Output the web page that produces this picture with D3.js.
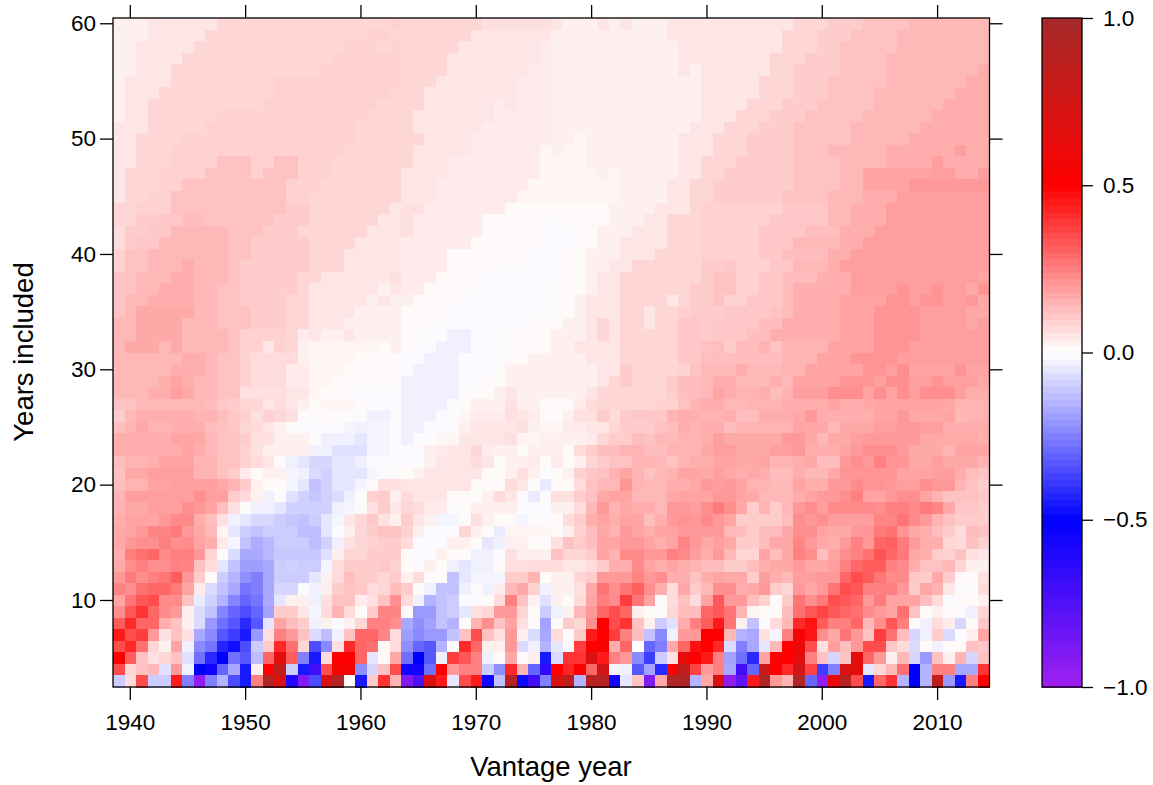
<!DOCTYPE html>
<html>
<head>
<meta charset="utf-8">
<script src="https://cdn.jsdelivr.net/npm/d3@7"></script>
<style>
body { margin: 0; background: #fff; }
text { font-family: "Liberation Sans", Arial, sans-serif; fill: #000; }
</style>
</head>
<body>
<script>
var years = d3.range(1939, 2015);
var included = d3.range(60, 2, -1);
var yearTicks = [1940, 1950, 1960, 1970, 1980, 1990, 2000, 2010];
var includedTicks = [10, 20, 30, 40, 50, 60];
var barTicks = [-1, -0.5, 0, 0.5, 1];
var colorStops = [-1, -0.5, 0, 0.5, 1];
var colorNames = ["#A020F0", "#0000FF", "#FFFFFF", "#FF0000", "#A52A2A"];

// one row per "years included" (60 at the top, 3 at the bottom), values x100
// each row: 1939, then the 40s, 50s, 60s, 70s, 80s, 90s, 00s, 2010-14
var values = [
[3, 3,3,5,5,5,5,5,5,8,8, 8,8,8,8,8,8,8,8,8,8, 8,8,8,9,8,8,8,8,8,8, 8,6,6,6,6,6,6,5,3,3, 3,5,3,5,3,3,3,5,5,5, 5,5,5,5,5,5,5,5,8,8, 8,10,10,10,12,12,12,12,14,14, 14,14,14,14,14],
[3, 3,3,5,5,5,5,5,8,8,8, 8,8,8,8,8,8,8,8,8,8, 8,9,9,8,8,8,8,8,8,8, 5,5,5,5,5,5,5,3,3,3, 3,3,3,3,3,3,3,5,5,5, 5,5,5,5,5,5,5,8,8,8, 10,10,10,12,12,12,12,14,14,14, 14,14,14,14,14],
[3, 3,5,5,5,5,5,8,8,8,8, 8,8,8,8,8,8,8,8,8,9, 9,9,8,9,8,8,8,8,8,5, 5,5,5,5,5,5,4,3,3,3, 3,3,3,3,3,3,3,3,5,5, 5,5,5,5,5,5,5,8,8,8, 10,10,12,12,12,12,12,14,14,14, 14,14,14,14,14],
[3, 3,5,5,5,5,8,8,8,8,8, 8,8,8,8,8,8,8,8,9,9, 9,9,9,9,8,8,8,8,5,5, 5,5,5,5,5,5,4,3,3,3, 3,3,3,3,3,3,3,3,5,5, 5,5,5,5,5,5,8,8,8,10, 10,10,12,12,12,12,14,14,14,14, 14,14,14,14,14],
[3, 3,5,5,5,8,8,8,8,8,8, 8,8,8,8,8,8,8,9,9,9, 9,9,9,9,8,8,8,8,5,5, 5,5,5,5,5,4,4,3,3,3, 3,3,3,3,3,3,3,3,5,3, 5,5,5,5,5,5,8,8,10,10, 10,10,12,12,12,12,14,14,14,14, 14,14,14,14,16],
[3, 5,5,5,5,8,8,8,8,8,8, 8,8,8,9,9,9,9,9,9,9, 9,9,9,9,8,8,8,5,5,5, 5,5,5,5,4,4,4,3,3,3, 3,3,3,3,3,3,3,3,3,3, 5,5,5,5,5,8,8,8,10,10, 10,12,12,12,12,12,14,14,14,14, 14,14,14,16,16],
[3, 5,5,5,8,8,8,8,8,8,8, 8,8,8,9,9,9,9,9,9,9, 9,9,9,8,8,8,5,5,5,5, 5,5,5,5,4,4,4,3,3,3, 3,3,3,3,3,3,3,3,3,3, 5,5,5,5,5,8,8,8,10,10, 10,12,12,12,12,14,14,14,14,14, 14,14,16,16,16],
[3, 5,5,8,8,8,8,8,8,8,8, 8,8,9,9,9,9,9,9,9,9, 9,9,8,8,8,8,5,5,5,5, 5,5,4,5,4,4,4,3,3,3, 3,3,3,3,3,3,3,3,3,3, 5,5,5,5,8,8,8,10,10,10, 12,12,12,12,12,14,14,14,14,14, 14,16,16,16,16],
[3, 5,5,8,8,8,8,8,8,9,9, 9,9,9,9,9,9,9,9,9,9, 9,8,8,8,8,5,5,5,5,5, 5,5,4,4,4,4,4,3,3,3, 3,3,3,3,3,3,3,3,3,3, 5,5,5,8,8,8,10,10,10,12, 12,12,12,12,14,14,14,14,14,14, 16,16,16,16,16],
[5, 5,5,8,8,8,8,8,9,9,9, 9,9,9,9,9,9,9,9,9,9, 8,8,8,8,8,5,5,5,5,5, 5,4,4,4,4,4,4,3,3,3, 3,3,3,3,3,3,3,3,3,5, 5,5,8,8,8,10,10,10,12,12, 12,12,12,14,14,14,14,14,14,16, 16,16,16,16,16],
[5, 5,8,8,8,8,9,9,9,9,9, 9,9,9,9,9,9,9,9,9,9, 8,8,8,8,8,8,5,5,5,5, 4,4,4,4,4,4,4,3,3,2, 3,3,3,3,3,3,3,3,5,5, 5,8,8,8,10,10,10,10,12,12, 12,12,12,14,14,14,14,14,16,16, 16,16,16,16,16],
[5, 5,8,8,8,9,9,9,9,9,9, 9,9,9,9,9,9,9,9,9,8, 8,8,8,8,8,5,5,5,5,5, 4,4,4,4,4,4,2,3,2,2, 3,3,3,3,3,3,3,3,5,5, 5,8,8,8,10,10,10,10,12,12, 12,14,14,14,14,14,16,16,16,16, 16,16,19,16,16],
[5, 5,8,8,8,9,9,9,9,12,12, 12,9,9,12,12,9,9,9,8,8, 8,8,8,8,8,5,5,5,4,4, 4,4,4,4,4,4,2,2,2,2, 3,3,3,3,3,3,3,3,5,5, 8,8,8,10,10,10,10,10,12,12, 12,12,14,14,14,14,16,16,16,16, 19,16,16,16,16],
[5, 8,8,8,9,9,9,9,12,12,12, 12,9,12,12,12,9,9,9,8,8, 8,8,8,8,5,5,5,5,4,4, 4,4,4,4,4,4,2,2,2,2, 2,3,2,3,3,3,3,3,5,5, 8,8,10,10,10,10,10,10,12,12, 12,12,14,14,18,18,18,18,18,18, 19,19,16,16,19],
[5, 8,8,8,9,9,12,12,12,12,12, 12,12,12,12,9,9,9,8,8,8, 8,8,8,8,5,5,5,4,4,4, 4,4,4,4,4,2,2,2,2,2, 2,2,2,3,3,3,3,5,5,8, 8,10,10,10,10,10,10,10,12,12, 12,12,14,14,18,18,18,18,20,20, 20,20,20,20,20],
[5, 8,8,9,9,12,12,12,12,12,12, 12,12,12,12,9,9,8,8,8,8, 8,8,8,8,5,5,5,4,4,4, 4,4,4,4,2,2,2,2,2,2, 2,2,2,3,3,3,3,5,5,8, 8,10,10,10,10,10,10,12,12,12, 12,14,14,14,16,16,16,19,19,19, 19,19,19,19,19],
[8, 8,9,9,9,12,12,12,12,12,12, 12,12,12,12,10,10,8,8,8,8, 8,8,8,5,6,6,4,4,4,4, 4,4,4,1,1,1,1,1,1,1, 1,1,3,3,3,3,5,5,5,8, 9,9,9,9,9,9,9,11,11,11, 11,14,14,16,16,16,19,19,19,19, 19,19,19,19,19],
[8, 8,10,10,11,11,13,13,12,12,12, 12,12,12,10,10,10,8,8,8,8, 8,8,5,5,6,4,4,4,4,4, 4,1,1,1,1,1,-1,1,1,1, 1,1,3,3,3,5,5,8,8,8, 9,9,9,9,9,9,11,11,11,11, 11,14,14,16,16,16,19,19,19,19, 19,19,19,19,19],
[7, 10,10,11,11,14,14,14,14,14,12, 12,12,10,10,10,8,8,8,8,8, 8,5,5,5,6,4,4,4,4,4, 4,1,1,1,1,1,-1,-1,-1,1, 1,3,3,3,5,5,5,8,8,8, 9,9,9,9,9,11,11,11,11,13, 13,13,16,16,16,19,19,19,19,19, 19,19,19,19,19],
[7, 10,11,11,14,14,14,14,14,14,12, 12,10,10,10,10,10,8,8,8,8, 5,5,5,5,4,4,4,4,4,4, 1,1,1,1,1,1,-1,-1,-1,1, 1,3,3,5,5,5,5,8,8,8, 9,9,9,9,9,11,11,11,14,14, 14,14,16,16,19,19,19,19,19,19, 19,19,19,19,19],
[9, 12,12,14,14,14,14,14,14,14,12, 12,10,10,10,10,10,8,8,8,5, 5,5,5,5,4,4,4,4,1,1, 1,1,1,1,1,-1,-1,-1,1,1, 3,3,3,5,5,5,8,8,8,8, 9,9,9,9,9,11,11,13,13,13, 13,16,16,19,19,19,19,19,19,19, 19,19,19,19,19],
[9, 12,12,14,14,14,16,14,14,14,12, 10,10,10,10,10,10,8,8,8,5, 5,5,5,5,4,4,4,4,1,1, 1,1,-1,1,-1,-1,-1,-1,1,1, 3,3,5,5,8,8,8,8,8,8, 10,10,11,9,9,9,11,11,14,14, 14,16,19,19,19,19,19,19,19,19, 19,19,19,19,19],
[12, 12,14,14,14,16,16,14,14,14,12, 10,10,10,10,10,8,8,5,5,5, 5,5,5,6,4,4,4,1,1,1, 1,-1,-1,-1,-1,-1,-1,-1,1,1, 3,5,5,8,8,8,8,8,8,8, 10,12,12,9,9,11,11,13,13,13, 16,16,16,19,19,19,19,19,19,19, 19,19,19,19,18],
[12, 12,14,14,16,16,16,14,14,12,12, 10,10,10,10,10,8,5,5,5,5, 5,5,3,5,4,4,1,1,1,1, -1,-1,-1,-1,-1,-1,-1,1,1,1, 3,5,5,8,8,8,8,8,8,10, 10,12,12,9,9,11,11,13,16,16, 16,16,16,19,19,19,19,21,19,19, 21,19,19,17,21],
[12, 14,14,16,16,16,16,14,14,12,12, 10,10,10,10,8,8,5,5,5,5, 5,3,5,3,3,1,1,1,1,-1, -1,-1,-1,-1,-1,-1,-1,1,1,3, 5,5,5,8,8,8,8,5,8,10, 10,12,9,9,11,11,11,13,16,16, 16,16,18,18,18,18,21,21,19,21, 21,19,19,20,17],
[12, 14,17,17,17,17,17,14,14,12,12, 12,10,10,10,8,8,5,5,5,5, 3,3,3,3,1,1,1,1,-1,-1, -1,-1,-1,-1,-1,-1,-1,1,1,3, 5,5,5,8,8,5,8,8,9,10, 10,10,11,11,11,11,12,13,16,16, 16,16,18,18,18,21,21,21,21,19, 19,19,19,17,17],
[14, 14,17,17,17,17,14,14,14,12,12, 12,10,10,10,8,8,5,5,5,3, 3,3,3,3,1,1,1,-1,-1,-1, -1,-1,-1,-1,-1,1,1,1,3,3, 5,8,5,8,8,5,8,8,11,11, 10,11,11,11,11,13,13,16,16,16, 16,16,18,18,18,21,21,21,21,19, 19,19,19,17,19],
[14, 14,17,17,17,17,14,14,14,14,12, 9,9,9,9,8,4,5,3,3,5, 3,3,3,3,1,1,-1,-1,-3,-3, -1,-1,-1,1,1,1,1,3,3,3, 5,8,5,8,8,8,8,8,11,11, 10,11,11,11,13,13,16,16,16,16, 16,16,18,18,18,21,21,21,21,19, 19,19,19,19,19],
[14, 17,17,17,14,17,14,14,14,14,12, 9,9,5,9,8,3,2,2,2,2, 2,2,1,3,1,-1,-1,-3,-3,-3, -1,-1,-1,1,1,1,1,3,3,5, 5,5,5,8,8,8,8,8,11,11, 12,13,10,13,13,15,12,15,15,15, 15,18,18,18,18,21,21,21,19,19, 19,19,19,19,19],
[14, 14,14,14,14,14,16,16,14,12,12, 9,7,7,7,7,3,2,2,2,2, 1,1,1,1,-1,-1,-3,-3,-3,-1, -1,-1,-1,1,1,3,3,3,3,3, 5,5,5,8,8,8,8,8,11,11, 13,13,13,13,13,13,13,15,15,15, 18,18,18,21,21,21,21,19,19,19, 19,19,19,19,19],
[14, 14,14,14,14,16,16,16,14,12,12, 9,7,7,7,4,4,2,2,2,1, 1,1,1,1,-1,-3,-3,-3,-3,-1, -1,-1,1,3,3,3,3,3,3,3, 3,5,5,10,8,8,8,8,9,12, 14,14,14,16,14,14,14,15,15,18, 18,18,18,18,21,21,19,22,18,18, 18,18,21,18,18],
[14, 14,14,14,16,18,16,14,14,12,12, 9,7,7,7,4,4,2,2,1,1, 1,1,1,1,-3,-3,-3,-3,-3,-1, -1,1,1,3,3,3,3,3,3,3, 3,5,8,10,8,8,8,10,13,13, 14,16,16,14,14,14,16,14,18,18, 18,18,21,21,21,19,22,22,19,19, 21,19,19,19,17],
[14, 14,14,16,16,19,17,14,14,12,12, 6,6,6,6,5,5,2,1,1,-1, -1,-1,-1,-1,-3,-3,-3,-3,-3,-1, 1,1,3,5,3,3,3,3,3,3, 5,8,8,8,8,8,8,10,13,13, 14,18,16,15,15,16,13,15,19,19, 19,22,22,22,18,22,18,22,19,22, 22,22,19,16,16],
[12, 12,14,14,14,14,14,14,13,11,10, 8,8,5,7,5,3,1,2,2,2, 1,-1,-1,-1,-3,-3,-3,-3,-1,1, 3,3,3,6,3,3,1,1,1,4, 7,8,8,8,8,8,9,9,12,15, 16,16,14,14,15,15,15,16,16,16, 16,18,16,16,17,18,18,18,18,18, 18,17,15,15,15],
[10, 14,16,16,16,16,16,15,15,13,11, 9,6,9,8,6,1,-1,1,1,-1, -1,-3,-3,-1,-3,-3,-3,-1,-1,2, 4,4,4,6,5,4,1,1,3,6, 6,10,7,10,11,11,11,15,16,16, 15,15,16,13,13,16,16,16,17,20, 16,16,16,16,16,18,18,20,17,17, 17,18,14,15,15],
[13, 15,17,15,15,16,16,16,13,12,11, 8,7,5,3,1,-1,-1,-1,-1,-2, -3,-2,-2,-1,-3,-3,-1,-1,-1,3, 5,5,5,5,6,3,2,2,4,4, 5,5,8,10,10,10,12,13,16,15, 16,16,13,15,15,15,15,15,18,17, 17,14,17,17,17,19,19,20,20,19, 19,16,16,16,16],
[16, 16,16,16,16,18,18,17,14,12,12, 10,6,6,3,3,3,1,-3,-3,-3, -5,-2,-2,-1,-3,-1,-1,2,2,5, 5,5,5,6,2,2,3,3,3,3, 4,8,10,10,13,12,14,14,15,15, 16,19,17,17,17,17,17,20,20,17, 14,17,17,19,20,20,20,20,20,17, 17,17,17,17,16],
[16, 16,16,16,16,16,18,16,14,12,12, 9,6,3,3,3,3,-3,-3,-6,-6, -6,-2,-2,-1,-1,-1,3,4,5,5, 8,4,3,3,1,3,3,3,1,7, 10,13,13,15,15,13,13,15,15,15, 17,19,19,17,17,17,19,19,20,16, 16,16,18,20,22,22,22,20,17,17, 17,15,18,18,18],
[13, 15,15,16,18,18,18,15,15,12,12, 9,7,5,1,-3,-5,-8,-8,-5,-5, -3,-1,-1,-1,-1,-1,3,5,5,5, 7,5,1,3,3,4,1,4,1,3, 8,10,12,12,15,15,14,12,15,16, 16,18,18,17,17,18,15,15,16,17, 13,13,20,22,20,25,21,21,17,17, 19,17,17,17,15],
[12, 17,17,19,19,19,19,15,15,12,10, 4,1,3,3,-2,-3,-7,-9,-5,-5, -5,-2,-1,1,1,3,5,5,5,5, 5,1,1,3,6,3,-1,1,3,9, 11,12,15,18,15,12,14,15,18,18, 17,19,17,16,17,16,13,13,16,14, 14,17,21,21,21,21,21,18,18,18, 19,19,16,13,12],
[13, 15,15,18,18,19,19,19,19,17,15, 10,3,1,1,-2,-5,-12,-9,-5,-5, -2,1,6,6,5,5,5,5,5,5, 1,1,1,7,5,1,-4,1,1,7, 12,14,14,21,15,14,14,16,16,17, 20,19,20,18,15,15,14,14,18,16, 16,20,20,23,21,21,20,19,19,22, 20,20,15,12,10],
[15, 19,19,19,19,19,19,22,19,19,10, 7,3,-3,-1,-6,-9,-11,-9,-7,-3, 1,9,10,3,7,5,5,5,1,1, 1,3,7,5,-1,-4,1,6,6,10, 12,17,18,18,14,14,14,17,18,18, 18,20,20,18,17,14,14,14,16,18, 20,20,22,25,18,18,20,22,22,18, 15,12,12,12,11],
[15, 17,17,19,19,19,22,20,18,13,6, 1,-3,-3,-5,-9,-9,-9,-9,-3,-2, 1,6,10,5,8,7,4,4,-1,1, 3,3,3,3,-1,-1,-1,3,3,7, 14,20,15,17,16,16,14,20,20,19, 22,26,22,17,10,15,10,14,20,22, 19,23,23,23,23,22,25,25,23,26, 24,17,11,11,10],
[16, 18,18,18,20,23,23,16,13,6,-3, -5,-8,-8,-10,-11,-12,-10,-5,-2,5, 8,11,6,3,10,5,3,-2,-2,1, 6,3,1,1,-2,1,-1,1,7,10, 16,18,16,18,18,13,16,20,21,20, 23,20,18,10,10,10,10,13,22,20, 22,19,19,19,19,24,24,27,23,20, 15,12,10,10,10],
[17, 18,20,24,24,26,20,17,14,2,-5, -10,-12,-10,-10,-10,-13,-13,-5,-1,3, 8,10,12,12,9,3,-1,-1,-1,8, 3,1,-4,2,2,2,2,1,3,9, 13,17,15,20,18,16,18,18,20,20, 20,20,14,13,10,13,13,17,22,22, 18,17,17,20,21,26,28,21,17,16, 13,10,7,13,12],
[17, 20,22,22,25,22,23,18,16,4,-2, -12,-16,-14,-10,-10,-10,-13,-9,-3,6, 8,9,10,10,7,-1,-1,-1,3,3, 1,-5,-3,3,3,1,1,6,12,10, 13,18,18,20,20,18,16,18,24,20, 17,19,17,10,10,13,17,17,24,20, 17,16,20,25,20,30,31,26,20,16, 16,8,7,12,9],
[16, 25,28,30,23,25,25,20,8,1,-7, -17,-17,-14,-11,-11,-11,-11,-6,3,8, 8,10,10,10,1,-1,-1,3,1,1, -3,-3,-1,6,3,3,3,12,8,8, 10,18,15,23,23,20,20,25,23,19, 16,20,14,8,8,18,13,17,25,22, 13,18,22,25,28,34,30,26,17,16, 10,9,12,6,5],
[17, 22,25,22,22,25,24,12,7,-5,-12, -19,-19,-17,-10,-9,-10,-10,-2,7,10, 10,10,11,9,1,-1,3,1,-3,-5, -3,-3,1,6,6,7,7,7,5,5, 7,10,16,16,23,18,16,18,16,15, 13,13,10,10,13,16,17,17,20,17, 17,19,25,30,32,32,25,23,16,12, 12,14,8,3,3],
[20, 26,22,25,27,32,20,10,1,-10,-15, -22,-25,-17,-10,-10,-10,-5,3,7,13, 10,10,8,10,3,7,1,1,-12,-5, -2,-2,-2,10,10,15,1,3,3,8, 10,20,20,20,24,20,22,16,16,12, 16,18,17,17,10,19,16,14,19,19, 20,20,30,35,32,27,23,23,11,10, 17,10,1,1,6],
[24, 22,28,30,30,26,18,4,-7,-12,-17, -27,-25,-17,-8,-8,-1,-3,3,10,12, 11,7,8,13,10,1,-3,-12,-12,-3, 1,-3,4,14,17,9,-3,3,3,6, 17,27,22,27,31,22,16,7,17,10, 14,22,22,16,17,20,10,8,20,17, 20,27,35,33,25,25,25,20,10,17, 15,5,-1,1,7],
[18, 27,33,35,23,23,12,-4,-9,-15,-24, -30,-27,-17,-5,3,3,-3,6,12,12, 4,6,12,22,7,-3,-15,-12,-10,-1, -1,1,7,25,12,3,-6,3,1,7, 18,25,23,38,27,18,1,7,12,7, 18,33,20,20,13,9,1,10,27,22, 26,35,33,30,20,26,18,18,18,13, 7,-1,1,1,3],
[22, 33,40,30,23,20,3,-7,-12,-24,-30, -35,-30,-18,10,10,5,-2,7,15,7, 1,10,24,24,1,-20,-20,-12,-10,-5, 6,8,20,20,8,1,-10,-3,3,14, 20,30,35,30,3,1,1,8,13,13, 30,33,27,15,2,1,1,13,28,33, 37,33,30,28,23,20,18,28,12,1, 3,1,1,-3,8],
[32, 42,30,30,16,12,3,-7,-20,-28,-33, -42,-33,-5,18,13,10,-3,3,-1,3, 8,25,25,22,-17,-22,-18,-12,-15,1, 15,22,12,18,6,1,-18,1,10,8, 22,50,35,40,12,3,-10,-6,16,25, 32,45,27,3,-12,-1,7,14,42,46, 32,25,25,30,14,22,33,25,1,-3, 7,4,-8,1,11],
[45, 35,38,20,6,12,6,-17,-23,-33,-38, -45,-20,6,25,20,12,-7,-13,-3,12, 30,30,24,7,-19,-23,-20,-20,-12,12, 35,12,6,20,3,-7,-17,7,1,10, 45,50,38,25,13,-12,-23,-3,20,20, 50,50,14,-15,-17,6,-2,25,55,46, 22,17,27,20,12,38,28,13,-8,-3, 10,-7,-1,3,18],
[35, 42,28,8,3,18,-3,-23,-27,-43,-47, -35,-10,10,42,28,8,-35,-23,6,42, 30,28,1,7,-22,-30,-33,-15,1,42, 30,3,3,20,-7,-3,-15,-5,1,38, 50,55,16,30,0,-30,-25,17,30,47, 50,42,-7,-25,-17,-5,14,50,60,35, 6,19,13,20,35,35,11,7,-7,1, -3,1,1,12,11],
[50, 32,12,6,8,12,-6,-28,-42,-50,-28, -33,-13,30,65,32,-25,-45,7,50,50, 30,-5,1,17,-28,-50,-33,-3,38,33, 25,-3,1,17,1,3,-45,-7,40,40, 70,45,25,20,-23,-38,-10,6,63,50, 45,25,-18,-28,-42,18,50,50,65,25, 12,-8,12,65,30,20,3,14,-8,-20, 12,3,15,-8,12],
[35, 8,12,14,-6,20,-3,-50,-55,-30,-17, -45,3,50,85,-10,-45,-70,35,55,55, -22,-8,12,35,-55,-55,-28,53,20,25, 25,-10,-22,42,15,-30,-65,50,43,52, 30,75,-2,-3,-33,-18,-42,52,85,37, 20,25,-17,-70,-30,80,50,42,75,37, -38,-25,70,65,-5,8,14,28,-50,-15, 25,25,-17,-17,40],
[-10, 7,35,-10,-10,45,-25,-95,-25,-15,-35, -45,25,95,70,-60,-90,-35,70,90,1, -45,10,40,15,-90,-75,70,45,-5,35, 45,-55,-12,90,-48,-70,-25,70,85,-15, 90,90,-55,-5,12,-90,17,95,95,-15, 17,70,-95,-80,45,95,20,15,95,-30, -95,60,90,35,-45,30,40,-15,-50,-15, 85,-20,-45,25,50]
];

var width = 1153, height = 785;
var plot = {left: 113, right: 989.5, top: 18, bottom: 687};
var bar = {left: 1042, right: 1082};

var svg = d3.select("body").append("svg")
    .attr("width", width)
    .attr("height", height)
    .style("display", "block");

var xScale = d3.scaleBand().domain(years).range([plot.left, plot.right]);
var yScale = d3.scaleBand().domain(included).range([plot.top, plot.bottom]);
var color = d3.scaleLinear().domain(colorStops).range(colorNames);
var barScale = d3.scaleLinear().domain([-1, 1]).range([plot.bottom, plot.top]);

// cells
values.forEach(function (row, i) {
    svg.append("g").selectAll("rect")
        .data(row)
        .enter().append("rect")
        .attr("x", function (d, j) { return xScale(years[j]); })
        .attr("y", yScale(included[i]))
        .attr("width", xScale.bandwidth() + 0.5)
        .attr("height", yScale.bandwidth() + 0.5)
        .attr("shape-rendering", "crispEdges")
        .attr("fill", function (d) { return color(d / 100); });
});

// frame
svg.append("rect")
    .attr("x", plot.left).attr("y", plot.top)
    .attr("width", plot.right - plot.left).attr("height", plot.bottom - plot.top)
    .attr("fill", "none").attr("stroke", "#000").attr("stroke-width", 1.3);

function styleAxis(g) {
    g.select(".domain").remove();
    g.selectAll("line").attr("stroke", "#000").attr("stroke-width", 1.3);
    g.selectAll("text").style("font-size", "22.5px");
}

svg.append("g").attr("transform", "translate(0," + plot.bottom + ")")
    .call(d3.axisBottom(xScale).tickValues(yearTicks).tickSize(13).tickPadding(14))
    .call(styleAxis);
svg.append("g").attr("transform", "translate(0," + plot.top + ")")
    .call(d3.axisTop(xScale).tickValues(yearTicks).tickSize(13).tickFormat(""))
    .call(styleAxis);
svg.append("g").attr("transform", "translate(" + plot.left + ",0)")
    .call(d3.axisLeft(yScale).tickValues(includedTicks).tickSize(13).tickPadding(4))
    .call(styleAxis);
svg.append("g").attr("transform", "translate(" + plot.right + ",0)")
    .call(d3.axisRight(yScale).tickValues(includedTicks).tickSize(13).tickFormat(""))
    .call(styleAxis);

svg.append("text").attr("x", 551).attr("y", 776).attr("text-anchor", "middle")
    .style("font-size", "27.5px").text("Vantage year");
svg.append("text").attr("transform", "translate(33,352) rotate(-90)").attr("text-anchor", "middle")
    .style("font-size", "27.5px").text("Years included");

// colour key
var barLevels = d3.range(-100, 100, 2);
svg.append("g").selectAll("rect")
    .data(barLevels)
    .enter().append("rect")
    .attr("x", bar.left)
    .attr("width", bar.right - bar.left)
    .attr("y", function (d) { return barScale((d + 2) / 100); })
    .attr("height", function (d) { return barScale(d / 100) - barScale((d + 2) / 100) + 0.5; })
    .attr("shape-rendering", "crispEdges")
    .attr("fill", function (d) { return color((d + 1) / 100); });
svg.append("rect")
    .attr("x", bar.left).attr("y", plot.top)
    .attr("width", bar.right - bar.left).attr("height", plot.bottom - plot.top)
    .attr("fill", "none").attr("stroke", "#000").attr("stroke-width", 1.3);
svg.append("g").attr("transform", "translate(" + bar.right + ",0)")
    .call(d3.axisRight(barScale).tickValues(barTicks).tickSize(11).tickPadding(10).tickFormat(d3.format(".1f")))
    .call(styleAxis);
</script>
</body>
</html>
